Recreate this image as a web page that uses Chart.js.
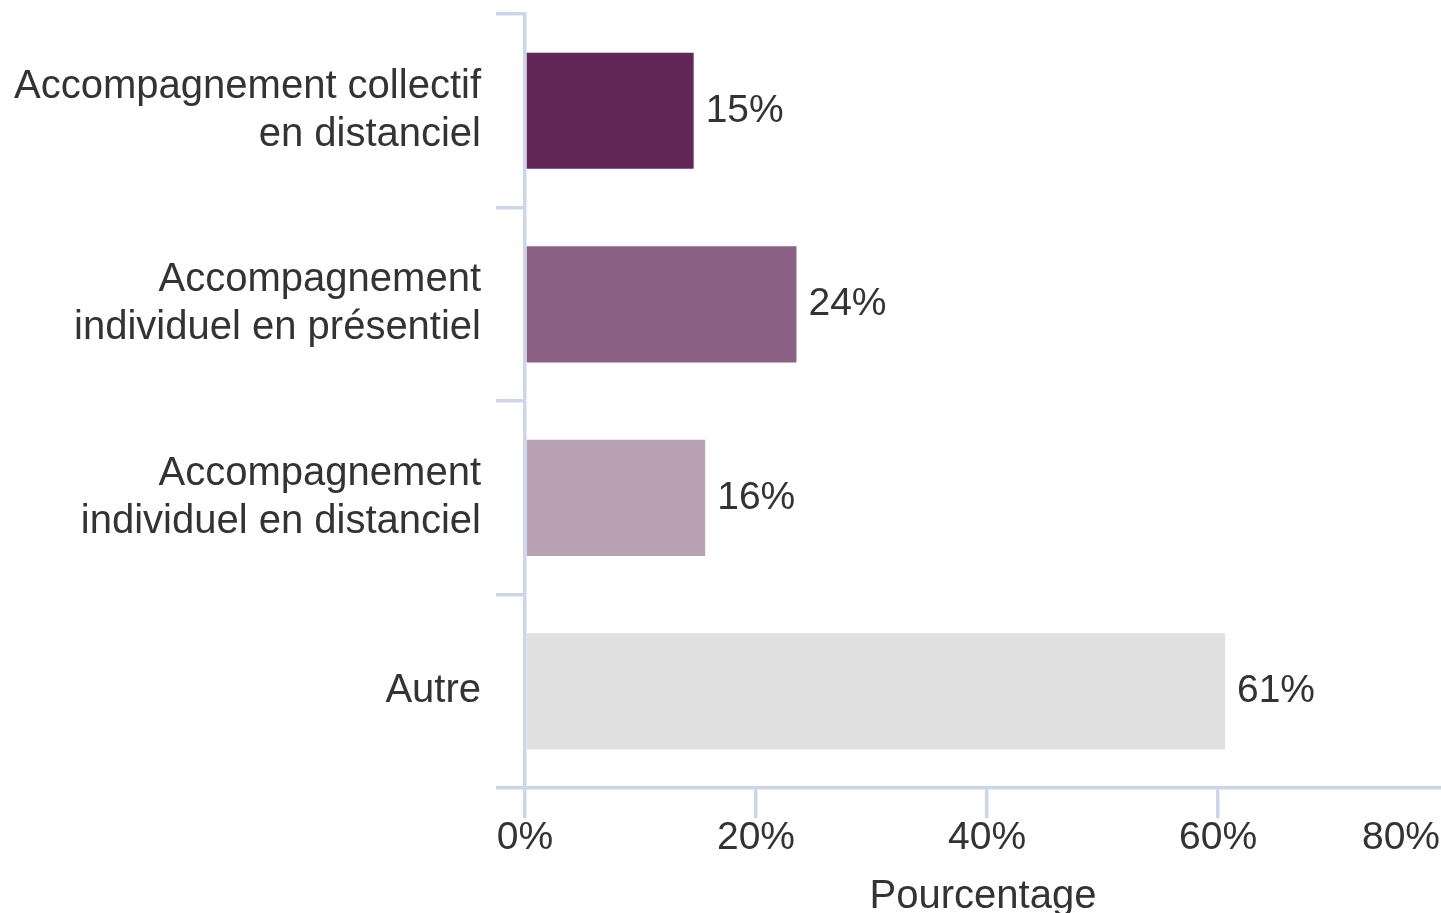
<!DOCTYPE html>
<html lang="fr">
<head>
<meta charset="utf-8">
<title>Type d'accompagnement - Pourcentage</title>
<script src="https://cdn.jsdelivr.net/npm/chart.js@4.4.0/dist/chart.umd.min.js"></script>
<style>
  html, body { margin: 0; padding: 0; background: #fff; overflow: hidden; }
  #chart-wrap { position: relative; width: 1441px; height: 913px; }
</style>
</head>
<body>
<div id="chart-wrap"><canvas id="accompagnement-chart"></canvas></div>
<script>
// Chart data
const categories = [
  ['Accompagnement collectif', 'en distanciel'],
  ['Accompagnement', 'individuel en présentiel'],
  ['Accompagnement', 'individuel en distanciel'],
  'Autre'
];
const percentages = [14.6, 23.5, 15.6, 60.6];
const barColors = ['#622657', '#8b6283', '#b7a1b3', '#e0e0e0'];
const xTickValues = [0, 20, 40, 60, 80];
const xAxisTitle = 'Pourcentage';

// Styles
const AXIS_COLOR = '#ccd6eb';
const TEXT_COLOR = '#333333';
const FONT_FAMILY = '"Liberation Sans", Arial, sans-serif';
const NUM_SIZE = 39;   // tick and value labels
const TEXT_SIZE = 40;  // category labels and axis title

// the original picture is cropped: the axis runs on past the right edge
const X_MAX = 79.3;

const fmtPct = (v) => `${v}%`;

// Value labels at the end of each bar
const barValueLabels = {
  id: 'barValueLabels',
  afterDatasetsDraw(chart) {
    const { ctx } = chart;
    const meta = chart.getDatasetMeta(0);
    ctx.save();
    ctx.font = `${NUM_SIZE}px ${FONT_FAMILY}`;
    ctx.fillStyle = TEXT_COLOR;
    ctx.textAlign = 'left';
    ctx.textBaseline = 'middle';
    meta.data.forEach((bar, i) => {
      ctx.fillText(fmtPct(Math.round(percentages[i])), bar.x + 12, bar.y);
    });
    ctx.restore();
  }
};

// Tick label past the end of the axis gets pulled back inside the canvas
const overflowTickLabel = {
  id: 'overflowTickLabel',
  afterDraw(chart) {
    const scale = chart.scales.x;
    const value = xTickValues.find(v => v > scale.max);
    if (value === undefined) return;

    const { ctx } = chart;
    const opts = scale.options;
    const y = scale.top + opts.grid.tickLength + opts.ticks.padding + NUM_SIZE * 1.2 / 2;
    ctx.save();
    ctx.font = `${NUM_SIZE}px ${FONT_FAMILY}`;
    ctx.fillStyle = TEXT_COLOR;
    ctx.textAlign = 'right';
    ctx.textBaseline = 'middle';
    ctx.fillText(fmtPct(value), chart.width - 1, y);
    ctx.restore();
  }
};

const canvas = document.getElementById('accompagnement-chart');

new Chart(canvas, {
  type: 'bar',
  data: {
    labels: categories,
    datasets: [{
      label: xAxisTitle,
      data: percentages,
      backgroundColor: barColors,
      borderWidth: 0,
      barPercentage: 0.6,
      categoryPercentage: 1
    }]
  },
  options: {
    indexAxis: 'y',
    responsive: true,
    maintainAspectRatio: false,
    animation: false,
    layout: {
      padding: { top: 14, left: 0, right: 0, bottom: 0 }
    },
    scales: {
      x: {
        type: 'linear',
        position: 'bottom',
        min: 0,
        max: X_MAX,
        afterBuildTicks: (scale) => {
          scale.ticks = xTickValues.filter(v => v <= scale.max).map(v => ({ value: v }));
        },
        afterFit: (scale) => {
          scale.paddingLeft = 0;
          scale.paddingRight = 0;
        },
        grid: {
          drawOnChartArea: false,
          color: AXIS_COLOR,
          lineWidth: 3.5,
          tickLength: 30
        },
        border: {
          color: AXIS_COLOR,
          width: 3.5
        },
        ticks: {
          callback: (value) => fmtPct(value),
          color: TEXT_COLOR,
          font: { family: FONT_FAMILY, size: NUM_SIZE },
          padding: -3,
          autoSkip: false,
          maxRotation: 0
        },
        title: {
          display: true,
          text: xAxisTitle,
          color: TEXT_COLOR,
          font: { family: FONT_FAMILY, size: TEXT_SIZE },
          padding: { top: 14, bottom: -8 }
        }
      },
      y: {
        afterFit: (scale) => {
          scale.width = 525;
          scale.paddingTop = 0;
          scale.paddingBottom = 0;
        },
        grid: {
          offset: true,
          drawOnChartArea: false,
          color: AXIS_COLOR,
          lineWidth: 3.5,
          tickLength: 29
        },
        border: {
          color: AXIS_COLOR,
          width: 3.5
        },
        ticks: {
          color: TEXT_COLOR,
          font: { family: FONT_FAMILY, size: TEXT_SIZE, lineHeight: 1.2 },
          padding: 15,
          autoSkip: false
        }
      }
    },
    plugins: {
      legend: { display: false },
      tooltip: { enabled: false }
    }
  },
  plugins: [barValueLabels, overflowTickLabel]
});
</script>
</body>
</html>
